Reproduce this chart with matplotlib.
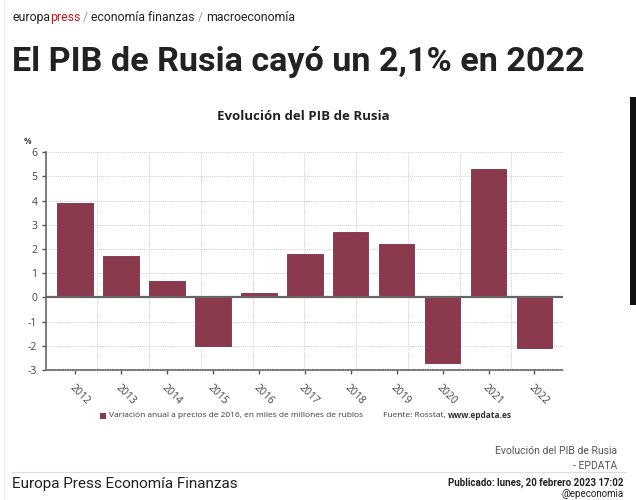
import numpy as np
import matplotlib.pyplot as plt
from matplotlib.patches import Rectangle
from matplotlib.lines import Line2D

# Datos
years = ["2012", "2013", "2014", "2015", "2016", "2017", "2018", "2019", "2020", "2021", "2022"]
pib = [3.9, 1.7, 0.7, -2.0, 0.2, 1.8, 2.7, 2.2, -2.7, 5.3, -2.1]
y_ticks = [-3, -2, -1, 0, 1, 2, 3, 4, 5, 6]

bar_color = "#8b3a4e"
chart_font = "Open Sans"
page_font = "Roboto"

fig = plt.figure(figsize=(6.36, 5.0), dpi=100)
fig.patch.set_facecolor("white")

# Ejes del grafico
ax = fig.add_axes([0.0719, 0.26, 0.8133, 0.4354])
x = np.arange(len(years))
ax.bar(x, pib, width=0.78, color=bar_color, edgecolor="#7a2f42", linewidth=0.6, zorder=3)
ax.set_xlim(-0.63, 10.62)
ax.set_ylim(-3, 6)
ax.axhline(0, color="#666666", lw=1.6, zorder=4)

ax.set_yticks(y_ticks)
ax.set_yticklabels([str(v) for v in y_ticks], fontsize=7.5, color="#444444", family=chart_font)
ax.set_xticks(x)
ax.set_xticklabels(years, rotation=-45, ha="left", va="top", rotation_mode="anchor",
                   fontsize=7.5, color="#444444", family=chart_font)
ax.tick_params(axis="x", length=3, width=1, color="#555555", pad=6)
ax.tick_params(axis="y", length=3, width=1, color="#555555", pad=3)

# rejilla vertical en 10 divisiones iguales
xmin, xmax = ax.get_xlim()
ax.set_xticks(np.linspace(xmin, xmax, 11)[1:], minor=True)
ax.tick_params(axis="x", which="minor", length=0)
ax.grid(axis="x", which="minor", color="#d0d0d0", lw=0.7, ls=(0, (1, 1)), zorder=0)
ax.grid(axis="y", which="major", color="#d0d0d0", lw=0.7, ls=(0, (1, 1)), zorder=0)

for s in ["top", "right"]:
    ax.spines[s].set_visible(False)
ax.spines["left"].set_color("#666666")
ax.spines["left"].set_linewidth(1.2)
ax.spines["bottom"].set_color("#777777")
ax.spines["bottom"].set_linewidth(1.2)
ax.spines["bottom"].set_linestyle((0, (1, 0.5)))

fig.text(0.044, 0.718, "%", fontsize=6, color="#444444", family=chart_font, weight="bold",
         ha="center", va="center")
fig.text(0.477, 0.766, "Evolución del PIB de Rusia", fontsize=9.5, weight="bold",
         color="#222222", family=chart_font, ha="center", va="center")

# Leyenda y fuente
fig.patches.append(Rectangle((0.157, 0.163), 0.0095, 0.012, transform=fig.transFigure,
                             facecolor=bar_color, edgecolor="none"))
fig.text(0.171, 0.169, "Variación anual a precios de 2016, en miles de millones de rublos",
         fontsize=6.0, color="#3a3a3a", family=chart_font, va="center")
t = fig.text(0.602, 0.169, "Fuente: Rosstat, ", fontsize=6.0, color="#3a3a3a",
             family=chart_font, va="center")
fig.canvas.draw()
r = fig.canvas.get_renderer()
bb = t.get_window_extent(r)
fig.text(bb.x1 / fig.bbox.width, 0.169, "www.epdata.es", fontsize=6.0, color="#333333",
         family=chart_font, weight="bold", va="center")

# Elementos de la pagina
def seq_text(xpos, ypos, parts, **kw):
    for txt, col in parts:
        tt = fig.text(xpos, ypos, txt, color=col, **kw)
        b = tt.get_window_extent(fig.canvas.get_renderer())
        xpos = b.x1 / fig.bbox.width

seq_text(0.019, 0.958, [("europa", "#222222"), ("press", "#c0161f"), (" / ", "#999999"),
                        ("economía finanzas", "#222222"), (" / ", "#999999"),
                        ("macroeconomía", "#222222")],
         fontsize=8.8, family=page_font, va="baseline")

fig.text(0.019, 0.859, "El PIB de Rusia cayó un 2,1% en 2022", fontsize=24.6, weight="bold",
         color="#222222", family=page_font, va="baseline")

fig.text(0.970, 0.099, "Evolución del PIB de Rusia", fontsize=7.5, color="#555555",
         family=page_font, ha="right", va="center")
fig.text(0.970, 0.068, "- EPDATA", fontsize=7.5, color="#555555",
         family=page_font, ha="right", va="center")
fig.lines.append(Line2D([0.019, 0.985], [0.056, 0.056], transform=fig.transFigure,
                        color="#dddddd", lw=0.8))
fig.text(0.019, 0.032, "Europa Press Economía Finanzas", fontsize=11, color="#222222",
         family=page_font, va="center")
fig.text(0.981, 0.034, "Publicado: lunes, 20 febrero 2023 17:02", fontsize=7, weight="bold",
         color="#222222", family=page_font, ha="right", va="center")
fig.text(0.981, 0.012, "@epeconomia", fontsize=7, color="#222222",
         family=page_font, ha="right", va="center")

# barra negra lateral y borde izquierdo
fig.patches.append(Rectangle((0.990, 0.390), 0.010, 0.416, transform=fig.transFigure,
                             facecolor="#111111", edgecolor="none"))
fig.lines.append(Line2D([0.006, 0.006], [0.0, 1.0], transform=fig.transFigure,
                        color="#eeeeee", lw=0.8))

fig.savefig("out.png", dpi=100)
